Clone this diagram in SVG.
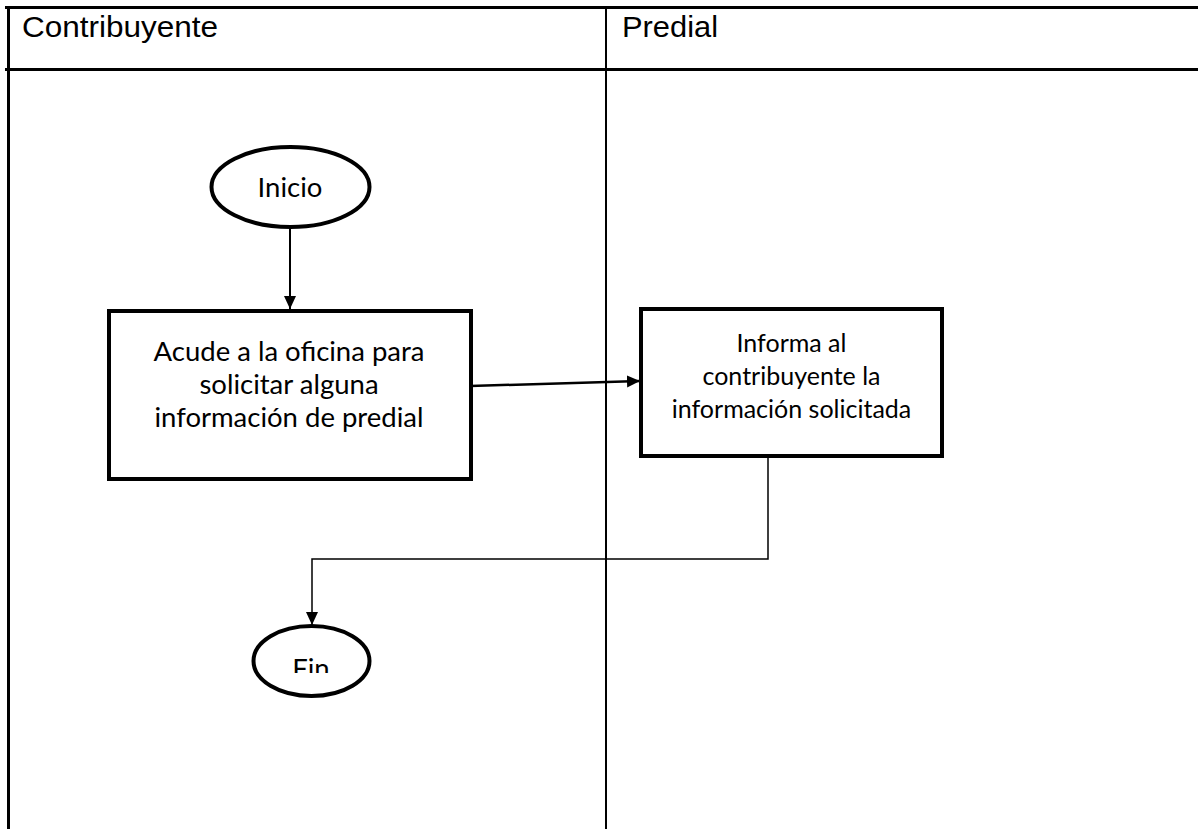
<svg xmlns="http://www.w3.org/2000/svg" width="1198" height="829" viewBox="0 0 1198 829">
  <style>
    .lane { fill: none; stroke: #000; }
    .lane-title { font-family: "Liberation Sans", Arial, sans-serif; font-size: 29px; fill: #000; }
    .shape { fill: #fff; stroke: #000; stroke-width: 4; }
    .label { font-family: Lato, "Open Sans", sans-serif; fill: #000; text-anchor: middle; }
    .big { font-size: 27.5px; }
    .small { font-size: 25px; }
    .flow { fill: none; stroke: #000; }
  </style>
  <defs>
    <marker id="arrow" markerUnits="userSpaceOnUse" markerWidth="14" markerHeight="14" refX="13" refY="7" orient="auto">
      <path d="M0,1 L13,7 L0,13 Z" fill="#000"/>
    </marker>
    <clipPath id="fin-clip">
      <rect x="250" y="620" width="125" height="53"/>
    </clipPath>
  </defs>

  <rect width="1198" height="829" fill="#fff"/>

  <!-- swimlane table -->
  <g id="lanes">
    <line class="lane" x1="5" y1="7.5" x2="1198" y2="7.5" stroke-width="3"/>
    <line class="lane" x1="5" y1="69.5" x2="1198" y2="69.5" stroke-width="3"/>
    <line class="lane" x1="8.5" y1="6" x2="8.5" y2="829" stroke-width="3"/>
    <line class="lane" x1="606" y1="6" x2="606" y2="829" stroke-width="2"/>
    <text class="lane-title" x="22" y="37" textLength="196" lengthAdjust="spacingAndGlyphs">Contribuyente</text>
    <text class="lane-title" x="622" y="37" textLength="96" lengthAdjust="spacingAndGlyphs">Predial</text>
  </g>

  <!-- connectors -->
  <g id="connectors">
    <line class="flow" x1="290" y1="229" x2="290" y2="309" stroke-width="2" marker-end="url(#arrow)"/>
    <line class="flow" x1="470" y1="386" x2="640" y2="381" stroke-width="2.5" marker-end="url(#arrow)"/>
    <polyline class="flow" points="768,458 768,559 312,559 312,625" stroke-width="1.5" marker-end="url(#arrow)"/>
  </g>

  <g id="inicio">
    <ellipse class="shape" cx="290.5" cy="187" rx="79" ry="40"/>
    <text class="label big" x="290" y="197">Inicio</text>
  </g>

  <g id="acude">
    <rect class="shape" x="109" y="311" width="362" height="168"/>
    <text class="label big" x="289" y="361">Acude a la oficina para</text>
    <text class="label big" x="289" y="394">solicitar alguna</text>
    <text class="label big" x="289" y="427">información de predial</text>
  </g>

  <g id="informa">
    <rect class="shape" x="641" y="309" width="301" height="147"/>
    <text class="label small" x="791.5" y="352">Informa al</text>
    <text class="label small" x="791.5" y="385">contribuyente la</text>
    <text class="label small" x="791.5" y="418">información solicitada</text>
  </g>

  <g id="fin">
    <ellipse class="shape" cx="311.5" cy="661" rx="58" ry="35"/>
    <text class="label big" x="311" y="678" clip-path="url(#fin-clip)">Fin</text>
  </g>
</svg>
